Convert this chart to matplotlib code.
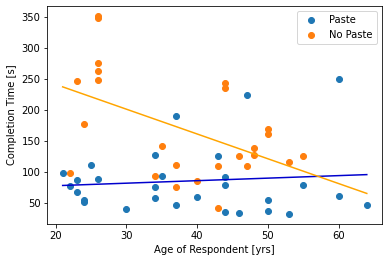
import numpy as np
import matplotlib.pyplot as plt

# ages [yrs] and completion times [s]
paste_age = [21, 22, 23, 23, 24, 24, 25, 26, 30, 34, 34, 34, 35, 37, 37,
             40, 43, 44, 44, 44, 46, 47, 50, 50, 53, 55, 60, 60, 64]
paste_time = [98, 78, 87, 68, 55, 51, 111, 89, 40, 127, 76, 58, 94, 190, 47,
              60, 126, 92, 79, 36, 34, 224, 55, 37, 32, 79, 250, 61, 47]

nopaste_age = [22, 23, 24, 26, 26, 26, 26, 26, 34, 35, 37, 37, 40, 43, 43,
               44, 44, 46, 47, 48, 48, 50, 50, 53, 55]
nopaste_time = [98, 247, 177, 352, 349, 276, 263, 248, 94, 142, 111, 76, 85, 110, 42,
                244, 236, 126, 110, 139, 127, 169, 161, 116, 126]

fig, ax = plt.subplots(figsize=(389 / 72, 262 / 72), dpi=72)
fig.subplots_adjust(left=0.122, right=0.982, bottom=0.145, top=0.977)

ax.scatter(paste_age, paste_time, label='Paste')
ax.scatter(nopaste_age, nopaste_time, label='No Paste')

# linear fits over the whole age range
all_age = paste_age + nopaste_age
xs = np.linspace(min(all_age), max(all_age), 50)
m1, b1 = np.polyfit(paste_age, paste_time, 1)
m2, b2 = np.polyfit(nopaste_age, nopaste_time, 1)
ax.plot(xs, m1 * xs + b1, color='mediumblue')
ax.plot(xs, m2 * xs + b2, color='orange')

ax.set_xlabel('Age of Respondent [yrs]')
ax.set_ylabel('Completion Time [s]')
ax.legend(loc='upper right')

fig.savefig('out.png')
